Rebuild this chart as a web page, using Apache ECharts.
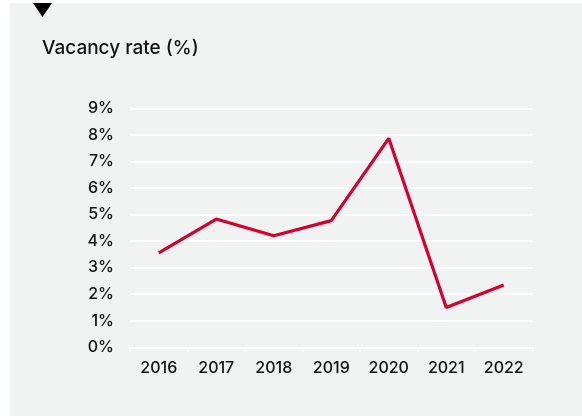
<!DOCTYPE html>
<html>
<head>
<meta charset="utf-8">
<script src="https://cdn.jsdelivr.net/npm/echarts@6/dist/echarts.min.js"></script>
<style>
html,body{margin:0;padding:0;background:#fff;}
#c{width:582px;height:416px;}
</style>
</head>
<body>
<div id="c"></div>
<script>
const years = ['2016','2017','2018','2019','2020','2021','2022'];
const vacancyRate = [3.56, 4.83, 4.2, 4.77, 7.87, 1.5, 2.35];
const yTicks = [0, 1, 2, 3, 4, 5, 6, 7, 8, 9];

const chart = echarts.init(document.getElementById('c'), null, {renderer: 'canvas'});
chart.setOption({
  animation: false,
  backgroundColor: '#ffffff',
  graphic: [
    {type: 'rect', left: 10, top: 3, z: -10, shape: {width: 572, height: 413}, style: {fill: '#f0f3f2'}},
    {type: 'polygon', z: 10, shape: {points: [[33, 3], [52, 3], [42.5, 17]]}, style: {fill: '#000000'}}
  ],
  title: {
    text: 'Vacancy rate (%)',
    left: 37, top: 34,
    textStyle: {fontFamily: 'Inter', fontSize: 19, fontWeight: 500, color: '#111111'}
  },
  grid: {left: 130, right: 49.5, top: 108.3, bottom: 68.7, containLabel: false},
  xAxis: {
    type: 'category',
    data: years,
    boundaryGap: true,
    axisLine: {show: true, lineStyle: {color: '#ffffff', width: 2}},
    axisTick: {show: true, length: 5, lineStyle: {color: '#ffffff', width: 2}},
    axisLabel: {fontFamily: 'Inter', fontSize: 16, fontWeight: 500, color: '#111111', margin: 13}
  },
  yAxis: {
    type: 'value',
    min: yTicks[0], max: yTicks[yTicks.length - 1], interval: 1,
    axisLine: {show: false},
    axisTick: {show: false},
    axisLabel: {fontFamily: 'Inter', fontSize: 16, fontWeight: 500, color: '#111111', margin: 16, formatter: v => v + '%'},
    splitLine: {lineStyle: {color: '#ffffff', width: 2}}
  },
  series: [{
    type: 'line',
    data: vacancyRate,
    symbol: 'none',
    lineStyle: {color: '#d40032', width: 3.2},
    itemStyle: {color: '#d40032'}
  }]
});
</script>
</body>
</html>
